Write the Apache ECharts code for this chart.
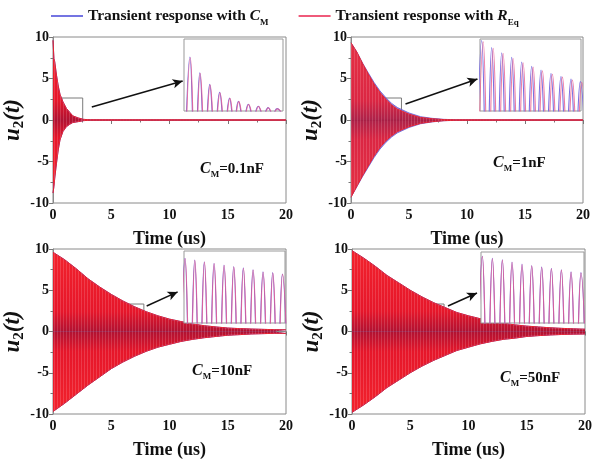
<!DOCTYPE html>
<html><head><meta charset="utf-8">
<script src="https://cdn.jsdelivr.net/npm/echarts@6/dist/echarts.min.js"></script>
<style>html,body{margin:0;padding:0;background:#fff}#c{width:604px;height:468px}</style>
</head><body><div id="c"></div>
<script>
// ---------- data ----------
const xTicks = [0, 5, 10, 15, 20];
const yTicks = [-10, -5, 0, 5, 10];
const panelLabels = ['0.1nF', '1nF', '10nF', '50nF'];

// Panel 1 (C_M = 0.1nF): envelope of oscillation
const p1Time  = [0, 0.08, 0.15, 0.3, 0.45, 0.6, 0.85, 1.15, 1.45, 1.7, 2.15, 2.6, 3.2, 20];
const p1UpREq = [9.6, 7.4, 7.0, 5.4, 4.1, 3.1, 2.2, 1.4, 0.9, 0.5, 0.25, 0.08, 0.02, 0];
const p1LoREq = [-8.8, -8.0, -7.0, -5.2, -3.6, -2.4, -1.4, -0.8, -0.5, -0.3, -0.2, -0.08, -0.02, 0];
const p1UpCM  = [9.6, 7.4, 7.0, 5.4, 4.1, 3.1, 2.2, 1.4, 0.9, 0.5, 0.25, 0.08, 0.02, 0];
const p1LoCM  = [-8.8, -8.0, -7.0, -5.2, -3.6, -2.4, -1.4, -0.8, -0.5, -0.3, -0.2, -0.08, -0.02, 0];

// Panel 2 (C_M = 1nF)
const p2Time  = [0, 0.5, 1, 1.5, 2, 2.5, 3, 3.5, 4, 5, 6, 7, 8, 9, 20];
const p2UpREq = [9.3, 8.2, 6.8, 5.5, 4.3, 3.3, 2.5, 1.8, 1.3, 0.7, 0.3, 0.15, 0.05, 0.02, 0];
const p2LoREq = [-9.3, -8.0, -6.7, -5.5, -4.3, -3.3, -2.5, -1.9, -1.4, -0.8, -0.4, -0.2, -0.08, -0.03, 0];
const p2UpCM  = [9.3, 8.2, 6.85, 5.65, 4.5, 3.5, 2.7, 2.0, 1.5, 0.85, 0.4, 0.2, 0.08, 0.03, 0];
const p2LoCM  = [-9.3, -8.05, -6.8, -5.65, -4.5, -3.5, -2.7, -2.05, -1.55, -0.9, -0.45, -0.23, -0.09, -0.04, 0];

// Panel 3 (C_M = 10nF)
const p3Time  = [0,1,2,3,4,5,6,7,8,9,10,11,12,13,14,15,16,17,18,19,20];
const p3UpREq = [9.6, 8.7, 7.6, 6.4, 5.4, 4.5, 3.7, 3.0, 2.4, 1.9, 1.5, 1.2, 0.9, 0.7, 0.55, 0.42, 0.35, 0.3, 0.26, 0.22, 0.2];
const p3LoREq = [-9.7, -8.7, -7.6, -6.5, -5.5, -4.5, -3.7, -3.0, -2.4, -1.9, -1.55, -1.2, -0.95, -0.75, -0.6, -0.45, -0.38, -0.3, -0.26, -0.22, -0.22];
const p3UpCM  = p3UpREq;
const p3LoCM  = p3LoREq;

// Panel 4 (C_M = 50nF)
const p4Time  = [0,1,2,3,4,5,6,7,8,9,10,11,12,13,14,15,16,17,18,19,20];
const p4UpREq = [9.8, 8.9, 7.9, 6.8, 5.9, 5.0, 4.2, 3.5, 2.9, 2.3, 1.9, 1.55, 1.25, 1.0, 0.8, 0.65, 0.55, 0.45, 0.38, 0.32, 0.28];
const p4LoREq = [-9.8, -8.9, -7.9, -6.8, -5.9, -5.0, -4.2, -3.5, -2.9, -2.3, -1.9, -1.5, -1.2, -0.95, -0.8, -0.6, -0.5, -0.42, -0.36, -0.32, -0.3];
const p4UpCM  = p4UpREq;
const p4LoCM  = p4LoREq;

// Zoom-in boxes [t0, t1, y0, y1] and arrows [tStart, yStart, tEnd, yEnd]
const boxes  = [[0.75, 2.55, 0, 2.65], [2.54, 4.35, 0, 2.65], [6.0, 7.8, 0.55, 3.33], [6.1, 7.9, 0.42, 3.33]];
const arrows = [[3.33, 1.57, 11.13, 4.7], [4.7, 1.93, 10.9, 4.94], [8.04, 3.09, 10.7, 4.8], [8.24, 3.09, 10.73, 4.67]];

// Inset peaks (position in 0..10, height as fraction of inset)
const in1PeakT   = [0.6, 1.6, 2.6, 3.6, 4.6, 5.5, 6.5, 7.5, 8.5, 9.4];
const in1PeakCM  = [0.75, 0.53, 0.37, 0.26, 0.18, 0.135, 0.093, 0.065, 0.047, 0.033];
const in1PeakTR  = [0.64, 1.64, 2.64, 3.64, 4.64, 5.54, 6.54, 7.54, 8.54, 9.44];
const in1PeakREq = [0.74, 0.52, 0.36, 0.25, 0.175, 0.13, 0.09, 0.063, 0.045, 0.032];

const in2PeakT   = [0.17, 1.16, 2.15, 3.14, 4.13, 5.12, 6.04, 7.03, 8.02, 9.01, 9.93];
const in2PeakCM  = [0.98, 0.88, 0.81, 0.745, 0.68, 0.62, 0.57, 0.52, 0.48, 0.445, 0.41];
const in2PeakTR  = [0.32, 1.31, 2.29, 3.28, 4.27, 5.26, 6.18, 7.17, 8.16, 9.15, 10.07];
const in2PeakREq = [0.96, 0.87, 0.8, 0.73, 0.67, 0.61, 0.56, 0.51, 0.47, 0.43, 0.4];

const in3PeakT   = [0.1, 1.06, 2.01, 2.97, 3.96, 4.92, 5.87, 6.83, 7.82, 8.78, 9.74];
const in3PeakCM  = [0.9, 0.875, 0.85, 0.83, 0.805, 0.785, 0.765, 0.74, 0.71, 0.7, 0.68];
const in3PeakTR  = [0.12, 1.08, 2.03, 2.99, 3.98, 4.94, 5.89, 6.85, 7.84, 8.8, 9.76];
const in3PeakREq = [0.89, 0.87, 0.845, 0.825, 0.8, 0.78, 0.76, 0.735, 0.705, 0.695, 0.675];

const in4PeakT   = [0.13, 1.1, 2.07, 3.01, 3.98, 4.92, 5.89, 6.83, 7.8, 8.74, 9.7];
const in4PeakCM  = [0.94, 0.91, 0.89, 0.86, 0.83, 0.81, 0.79, 0.77, 0.75, 0.72, 0.71];
const in4PeakTR  = [0.14, 1.11, 2.08, 3.02, 3.99, 4.93, 5.9, 6.84, 7.81, 8.75, 9.71];
const in4PeakREq = [0.935, 0.905, 0.885, 0.855, 0.825, 0.805, 0.785, 0.765, 0.745, 0.715, 0.705];

// ---------- build chart ----------
const FONT = 'Liberation Serif';
const panels = [
  {t: p1Time, upR: p1UpREq, loR: p1LoREq, upC: p1UpCM, loC: p1LoCM, grid: {left: 53, top: 37, width: 233, height: 166},
   inset: {left: 184, top: 39, width: 99, height: 72}, inT: in1PeakT, inC: in1PeakCM, inTR: in1PeakTR, inR: in1PeakREq, label: {left: 195, top: 154}},
  {t: p2Time, upR: p2UpREq, loR: p2LoREq, upC: p2UpCM, loC: p2LoCM, grid: {left: 351, top: 37, width: 232, height: 166},
   inset: {left: 480, top: 39, width: 101, height: 72}, inT: in2PeakT, inC: in2PeakCM, inTR: in2PeakTR, inR: in2PeakREq, label: {left: 488, top: 148}},
  {t: p3Time, upR: p3UpREq, loR: p3LoREq, upC: p3UpCM, loC: p3LoCM, grid: {left: 53, top: 249, width: 233, height: 165},
   inset: {left: 184, top: 251, width: 101, height: 72}, inT: in3PeakT, inC: in3PeakCM, inTR: in3PeakTR, inR: in3PeakREq, label: {left: 187, top: 356}},
  {t: p4Time, upR: p4UpREq, loR: p4LoREq, upC: p4UpCM, loC: p4LoCM, grid: {left: 352, top: 249, width: 233, height: 165},
   inset: {left: 481, top: 252, width: 103, height: 71}, inT: in4PeakT, inC: in4PeakCM, inTR: in4PeakTR, inR: in4PeakREq, label: {left: 495, top: 363}}
];

const zip = (a, b) => a.map((v, i) => [v, b[i]]);
function wave(ts, amps) {
  const out = [];
  for (let i = 0; i < ts.length; i++) {
    const half = i + 1 < ts.length ? (ts[i + 1] - ts[i]) / 2 : (ts[i] - ts[i - 1]) / 2;
    if (i === 0) out.push([ts[0] - half, -amps[0]]);
    out.push([ts[i], amps[i]]);
    out.push([ts[i] + half, -amps[i]]);
  }
  return out;
}
// vertical stripe pattern to suggest the dense oscillation
const stripe = document.createElement('canvas');
stripe.width = 3; stripe.height = 4;
(function () { const g = stripe.getContext('2d'); g.fillStyle = 'rgba(255,215,220,0.26)'; g.fillRect(0, 0, 1, 4); })();

const redUp = {type: 'linear', x: 0, y: 0, x2: 0, y2: 1, colorStops: [{offset: 0, color: '#f2222c'}, {offset: 0.75, color: '#e6162a'}, {offset: 1, color: '#b01232'}]};
const redLo = {type: 'linear', x: 0, y: 0, x2: 0, y2: 1, colorStops: [{offset: 0, color: '#b01232'}, {offset: 0.25, color: '#e6162a'}, {offset: 1, color: '#f2222c'}]};
const blueFill = '#6a55cc';
const BLUE_LINE = '#7474e2', RED_LINE = '#ef5a7a';

const grids = [], xAxes = [], yAxes = [], series = [], titles = [];
const axisTextStyle = {fontFamily: FONT, fontWeight: 'bold', fontSize: 14, color: '#111'};
panels.forEach((p, k) => {
  grids.push(Object.assign({show: true, borderColor: '#8a8a8a', borderWidth: 1, z: 0}, p.grid));
  const gi = grids.length - 1;
  xAxes.push({gridIndex: gi, type: 'value', min: xTicks[0], max: xTicks[xTicks.length - 1], interval: 5,
    name: 'Time (us)', nameLocation: 'middle', nameGap: 27,
    nameTextStyle: {fontFamily: FONT, fontWeight: 'bold', fontSize: 18, color: '#111'},
    axisLine: {lineStyle: {color: '#8a8a8a', width: 1}}, axisTick: {length: 4, lineStyle: {color: '#777'}},
    minorTick: {show: true, splitNumber: 2, length: 2.5, lineStyle: {color: '#777'}},
    splitLine: {show: false}, axisLabel: Object.assign({margin: 5}, axisTextStyle)});
  yAxes.push({gridIndex: gi, type: 'value', min: yTicks[0], max: yTicks[yTicks.length - 1], interval: 5,
    name: '{i|u}{s|2}{i|(t)}', nameLocation: 'middle', nameGap: 17, nameRotate: 90,
    nameTextStyle: {rich: {i: {fontFamily: FONT, fontWeight: 'bold', fontStyle: 'italic', fontSize: 23, color: '#111', lineHeight: 26, verticalAlign: 'middle'},
                           s: {fontFamily: FONT, fontWeight: 'bold', fontSize: 15, color: '#111', lineHeight: 26, verticalAlign: 'bottom', padding: [9, 0, 0, 0]}}},
    axisLine: {lineStyle: {color: '#8a8a8a', width: 1}}, axisTick: {length: 4, lineStyle: {color: '#777'}},
    minorTick: {show: true, splitNumber: 2, length: 2.5, lineStyle: {color: '#777'}},
    splitLine: {show: false}, axisLabel: Object.assign({margin: 4}, axisTextStyle)});
  const ai = xAxes.length - 1;
  const common = {type: 'line', xAxisIndex: ai, yAxisIndex: ai, showSymbol: false, symbol: 'none', silent: true, animation: false, z: 2};
  series.push(Object.assign({}, common, {name: 'CM', data: zip(p.t, p.upC), lineStyle: {color: blueFill, width: 0.8}, itemStyle: {color: BLUE_LINE}, areaStyle: {color: blueFill}}));
  series.push(Object.assign({}, common, {name: 'CM', data: zip(p.t, p.loC), lineStyle: {color: blueFill, width: 0.8}, itemStyle: {color: BLUE_LINE}, areaStyle: {color: blueFill}}));
  const redOp = k === 1 ? 0.86 : 1;
  const b = boxes[k], a = arrows[k];
  series.push(Object.assign({}, common, {name: 'REq', data: zip(p.t, p.upR), lineStyle: {color: '#e8202c', width: 1}, itemStyle: {color: RED_LINE}, areaStyle: {color: redUp, opacity: redOp}}));
  series.push(Object.assign({}, common, {name: 'REq', data: zip(p.t, p.loR), lineStyle: {color: '#e8202c', width: 1}, itemStyle: {color: RED_LINE}, areaStyle: {color: redLo, opacity: redOp}}));
  // stripe overlays (same envelopes)
  series.push(Object.assign({}, common, {name: 'REq', z: 3, data: zip(p.t, p.upR), lineStyle: {width: 0}, itemStyle: {color: RED_LINE}, areaStyle: {color: {image: stripe, repeat: 'repeat'}}}));
  series.push(Object.assign({}, common, {name: 'REq', z: 3, data: zip(p.t, p.loR), lineStyle: {width: 0}, itemStyle: {color: RED_LINE}, areaStyle: {color: {image: stripe, repeat: 'repeat'}},
    markArea: {silent: true, itemStyle: {color: 'rgba(0,0,0,0)', borderColor: '#7a7a7a', borderWidth: 1}, data: [[{coord: [b[0], b[3]]}, {coord: [b[1], b[2]]}]]},
    markLine: {silent: true, symbol: ['none', 'arrow'], symbolSize: [7, 10], label: {show: false}, lineStyle: {color: '#111', width: 1.5, type: 'solid'},
      data: [[{coord: [a[0], a[1]]}, {coord: [a[2], a[3]]}]]}}));

  // inset
  grids.push(Object.assign({show: true, borderColor: '#999', borderWidth: 1, backgroundColor: '#fff', z: 5}, p.inset));
  const ii = grids.length - 1;
  xAxes.push({gridIndex: ii, type: 'value', min: 0, max: 10, show: false});
  yAxes.push({gridIndex: ii, type: 'value', min: 0, max: 1, show: false});
  const ci = xAxes.length - 1;
  series.push({type: 'line', name: 'CM', xAxisIndex: ci, yAxisIndex: ci, z: 6, showSymbol: false, symbol: 'none', smooth: 0.45, animation: false, silent: true,
    data: wave(p.inT, p.inC), lineStyle: {color: '#7a6ee0', width: 1.1}, itemStyle: {color: BLUE_LINE}});
  series.push({type: 'line', name: 'REq', xAxisIndex: ci, yAxisIndex: ci, z: 6, showSymbol: false, symbol: 'none', smooth: 0.45, animation: false, silent: true,
    data: wave(p.inTR, p.inR), lineStyle: {color: 'rgba(232,90,140,0.8)', width: 1.1}, itemStyle: {color: RED_LINE}});

  titles.push({text: '{i|C}{s|M}{n|=' + panelLabels[k] + '}', left: p.label.left, top: p.label.top,
    textStyle: {rich: {i: {fontFamily: FONT, fontWeight: 'bold', fontStyle: 'italic', fontSize: 16, color: '#111', lineHeight: 20, verticalAlign: 'middle'},
                       s: {fontFamily: FONT, fontWeight: 'bold', fontSize: 9, color: '#111', lineHeight: 20, verticalAlign: 'bottom', padding: [6, 0, 0, 0]},
                       n: {fontFamily: FONT, fontWeight: 'bold', fontSize: 15, color: '#111', lineHeight: 20, verticalAlign: 'middle'}}}});
});

const legendText = {CM: '{t|Transient response with }{i|C}{s|M}', REq: '{t|Transient response with }{i|R}{s|Eq}'};
const option = {
  backgroundColor: '#fff',
  animation: false,
  title: titles,
  legend: {
    top: 3, left: 46, itemGap: 30, itemWidth: 32, itemHeight: 2, icon: 'rect', selectedMode: false,
    data: [{name: 'CM', itemStyle: {color: BLUE_LINE}}, {name: 'REq', itemStyle: {color: RED_LINE}}],
    formatter: n => legendText[n],
    textStyle: {padding: [0, 0, 0, 0], rich: {
      t: {fontFamily: FONT, fontWeight: 'bold', fontSize: 15.5, color: '#111', lineHeight: 22, verticalAlign: 'middle'},
      i: {fontFamily: FONT, fontWeight: 'bold', fontStyle: 'italic', fontSize: 15.5, color: '#111', lineHeight: 22, verticalAlign: 'middle'},
      s: {fontFamily: FONT, fontWeight: 'bold', fontSize: 9, color: '#111', lineHeight: 22, verticalAlign: 'bottom', padding: [8, 0, 0, 0]}}}
  },
  grid: grids, xAxis: xAxes, yAxis: yAxes, series: series
};
const chart = echarts.init(document.getElementById('c'), null, {renderer: 'canvas'});
chart.setOption(option);
</script></body></html>
